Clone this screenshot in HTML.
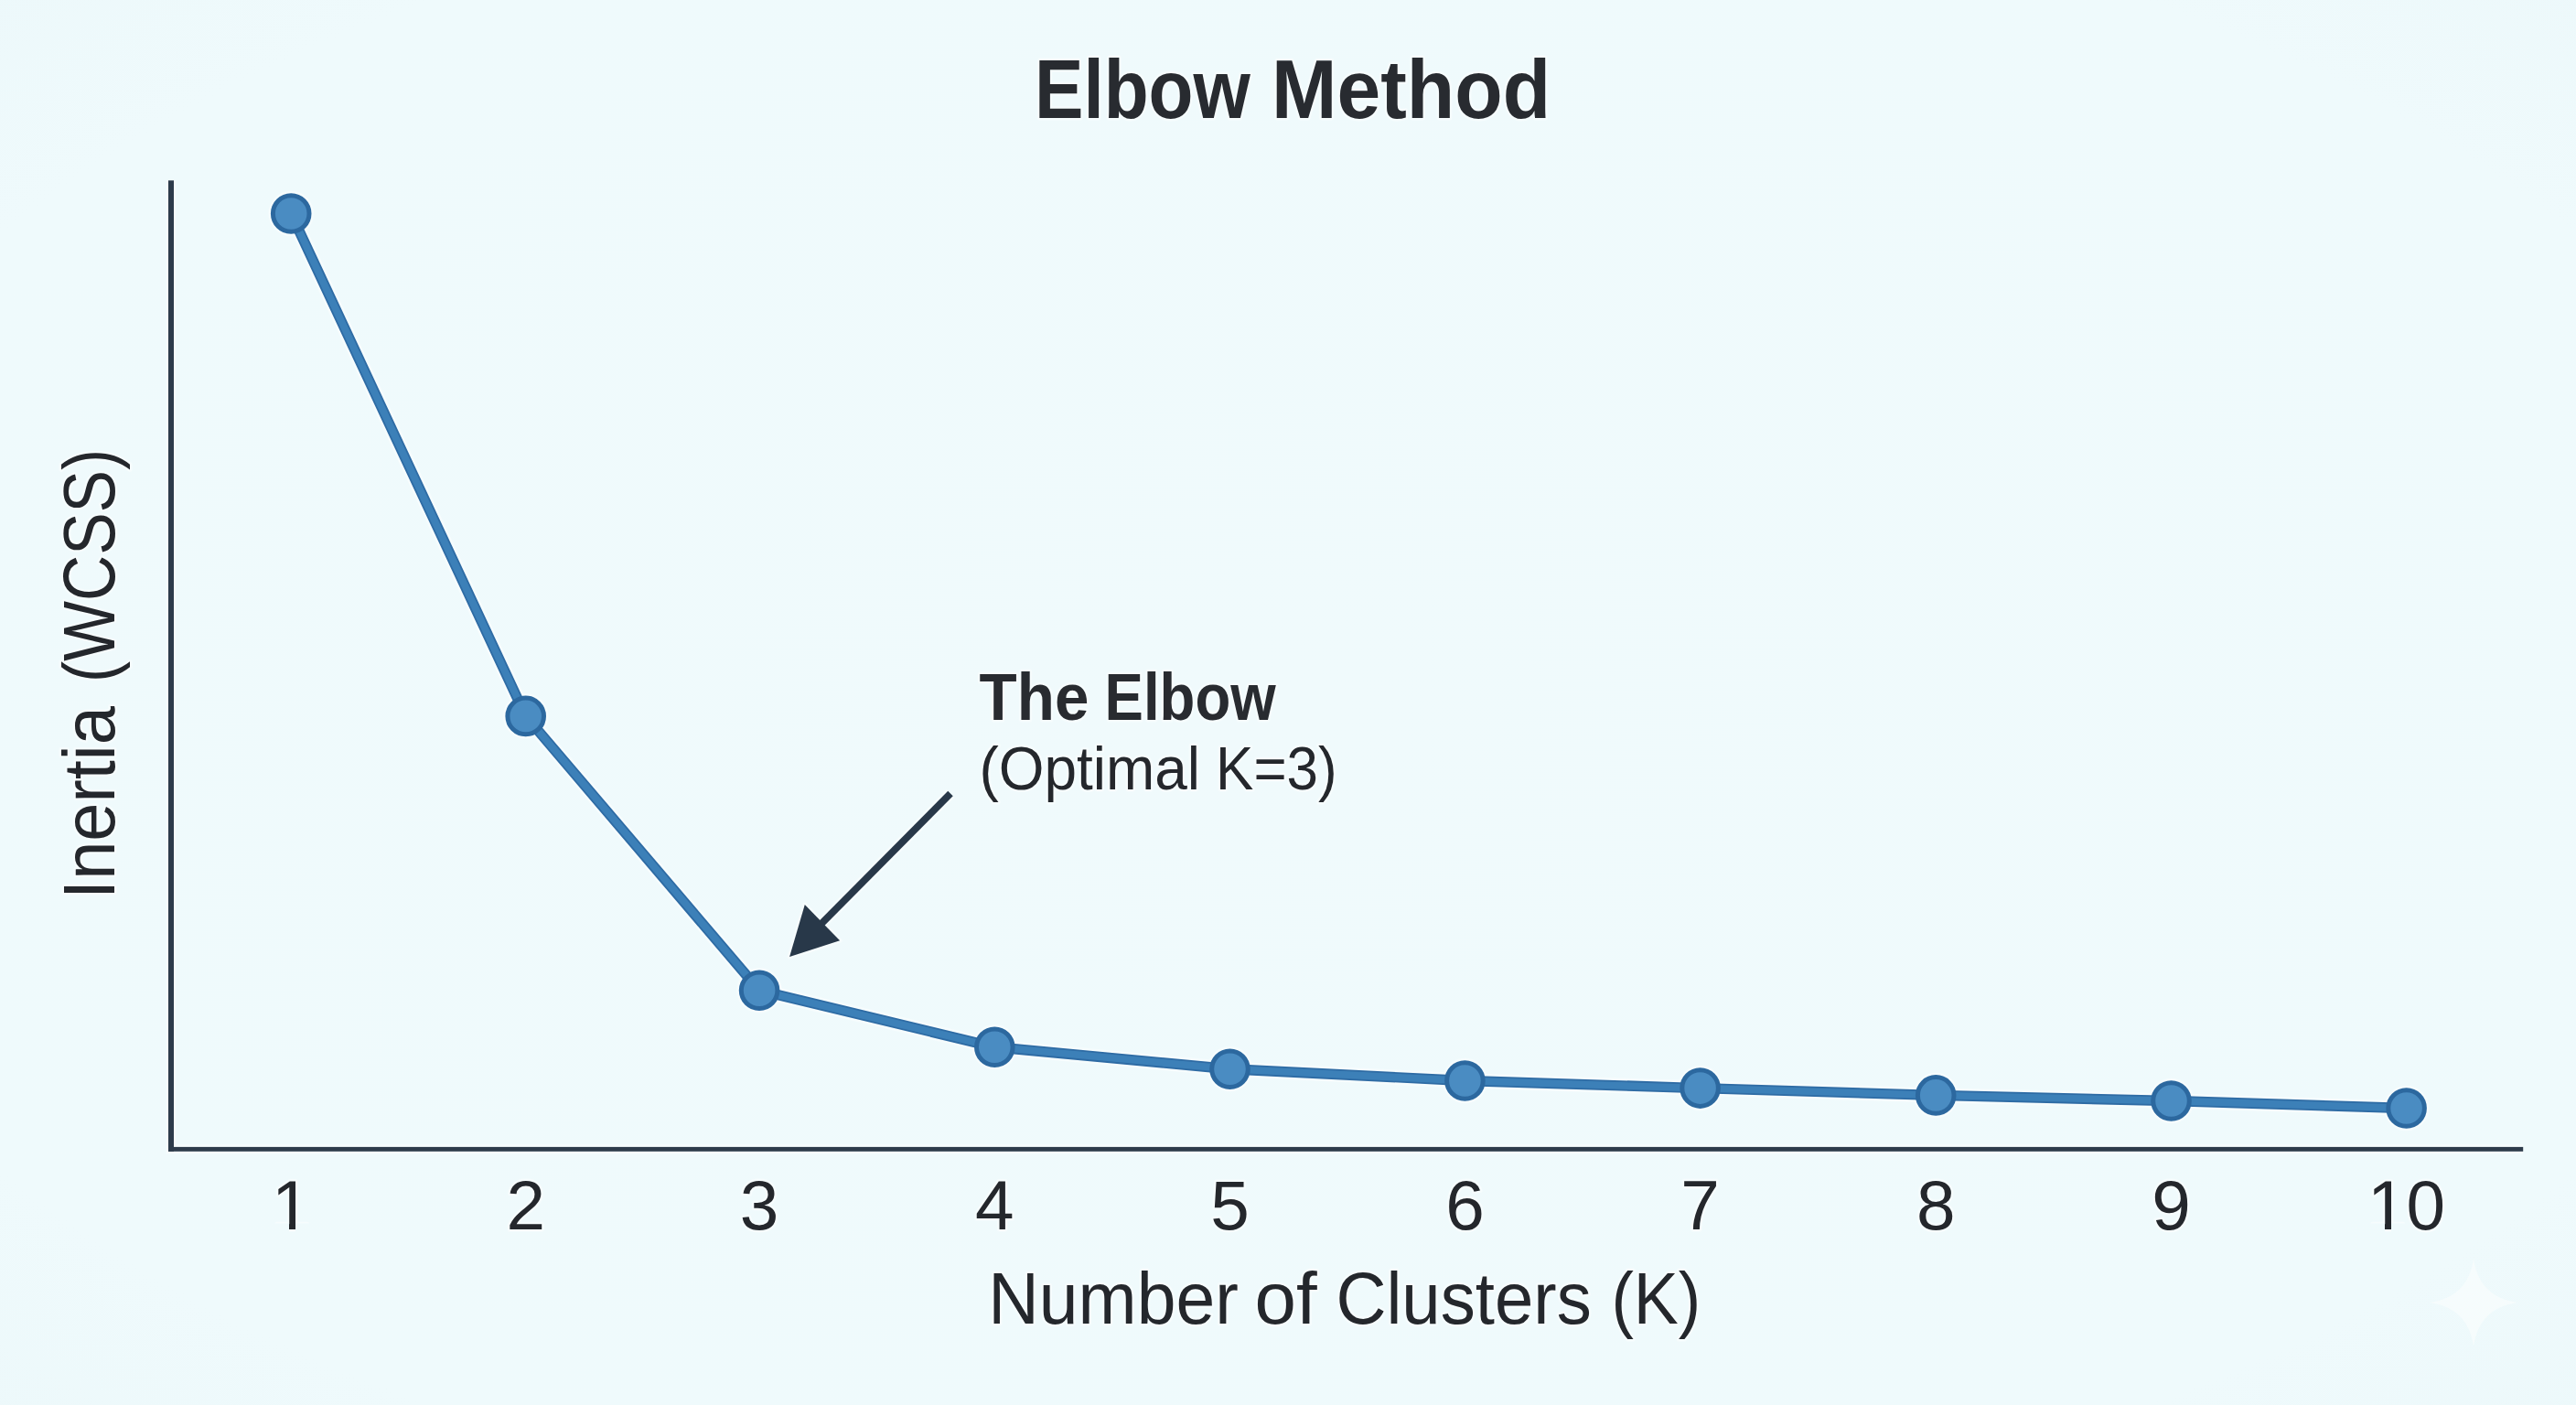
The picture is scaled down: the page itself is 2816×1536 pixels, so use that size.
<!DOCTYPE html>
<html lang="en">
<head>
<meta charset="utf-8">
<title>Elbow Method</title>
<style>
  html, body { margin: 0; padding: 0; width: 2816px; height: 1536px; overflow: hidden; background: #effafc; }
  svg { display: block; position: absolute; left: 0; top: 0; }
  text { font-family: "Liberation Sans", sans-serif; }
  .t  { fill: #24272c; stroke: #f6fcfd; stroke-width: 5px; paint-order: stroke fill; stroke-linejoin: round; }
  .tb { fill: #282b30; font-weight: bold; stroke: #f6fcfd; stroke-width: 5px; paint-order: stroke fill; stroke-linejoin: round; }
</style>
</head>
<body>
<svg width="2816" height="1536" viewBox="0 0 2816 1536">
  <defs>
    <clipPath id="c1"><path d="M250 1270 H400 V1337.5 H323 V1352 H316 V1337.5 H250 Z"/></clipPath>
    <clipPath id="c10"><path d="M2560 1270 H2720 V1352 H2630.5 V1337.5 H2614 V1352 H2607 V1337.5 H2560 Z"/></clipPath>
    <radialGradient id="bg" cx="50%" cy="50%" r="75%">
      <stop offset="0" stop-color="#f0fafc"/>
      <stop offset="0.8" stop-color="#effafc"/>
      <stop offset="1" stop-color="#ecf8fa"/>
    </radialGradient>
  </defs>
  <rect x="0" y="0" width="2816" height="1536" fill="url(#bg)"/>

  <!-- watermark sparkle -->
  <path id="sparkle" d="M2704 1376 C2708 1404 2724 1420 2752 1424 C2724 1428 2708 1444 2704 1472 C2700 1444 2684 1428 2656 1424 C2684 1420 2700 1404 2704 1376 Z" fill="#f7fcfd" opacity="0.8"/>

  <!-- title -->
  <g id="title" class="tb" font-size="90">
    <text transform="translate(1130.96,129.2) scale(0.8903,1)">Elbow</text>
    <text transform="translate(1390.08,129.2) scale(0.9536,1)">Method</text>
  </g>

  <!-- axes -->
  <g id="halo" fill="none" stroke="#f6fcfd" stroke-linejoin="round" stroke-linecap="round">
    <path d="M187 197.3 V1256.35 H2758.2" stroke-width="10.5" stroke-linecap="butt" stroke-linejoin="miter"/>
    <polyline stroke-width="16.5" points="318.2,233.5 574.7,782.9 830.1,1082.7 1087.3,1144.7 1344.5,1168.7 1601.4,1181.5 1858.6,1189.6 2116.2,1197.4 2373.5,1203.5 2630.6,1211.5"/>
    <path d="M1039 867.5 L896 1011.8" stroke-width="12.5" stroke-linecap="butt"/>
    <polygon points="863.1,1046 879.8,989 918.1,1028.3" fill="#f6fcfd" stroke-width="5"/>
  </g>
  <g id="markerhalo" fill="#f6fcfd">
    <circle cx="318.2" cy="233.5" r="24.8"/>
    <circle cx="574.7" cy="782.9" r="24.8"/>
    <circle cx="830.1" cy="1082.7" r="24.8"/>
    <circle cx="1087.3" cy="1144.7" r="24.8"/>
    <circle cx="1344.5" cy="1168.7" r="24.8"/>
    <circle cx="1601.4" cy="1181.5" r="24.8"/>
    <circle cx="1858.6" cy="1189.6" r="24.8"/>
    <circle cx="2116.2" cy="1197.4" r="24.8"/>
    <circle cx="2373.5" cy="1203.5" r="24.8"/>
    <circle cx="2630.6" cy="1211.5" r="24.8"/>
  </g>
  <g id="axes" fill="#2d3b4b">
    <rect x="184" y="197.3" width="6" height="1061.5"/>
    <rect x="184" y="1253.9" width="2574.2" height="4.9"/>
  </g>

  <!-- data line -->
  <g id="line" fill="none" stroke-linejoin="round" stroke-linecap="round">
    <polyline stroke="#2e6ba4" stroke-width="11.4" points="318.2,233.5 574.7,782.9 830.1,1082.7 1087.3,1144.7 1344.5,1168.7 1601.4,1181.5 1858.6,1189.6 2116.2,1197.4 2373.5,1203.5 2630.6,1211.5"/>
    <polyline stroke="#3c80b8" stroke-width="7.8" points="318.2,233.5 574.7,782.9 830.1,1082.7 1087.3,1144.7 1344.5,1168.7 1601.4,1181.5 1858.6,1189.6 2116.2,1197.4 2373.5,1203.5 2630.6,1211.5"/>
  </g>

  <!-- markers -->
  <g id="markers" fill="#4a8cc2" stroke="#2c689f" stroke-width="5">
    <circle cx="318.2" cy="233.5" r="19.8"/>
    <circle cx="574.7" cy="782.9" r="19.8"/>
    <circle cx="830.1" cy="1082.7" r="19.8"/>
    <circle cx="1087.3" cy="1144.7" r="19.8"/>
    <circle cx="1344.5" cy="1168.7" r="19.8"/>
    <circle cx="1601.4" cy="1181.5" r="19.8"/>
    <circle cx="1858.6" cy="1189.6" r="19.8"/>
    <circle cx="2116.2" cy="1197.4" r="19.8"/>
    <circle cx="2373.5" cy="1203.5" r="19.8"/>
    <circle cx="2630.6" cy="1211.5" r="19.8"/>
  </g>

  <!-- annotation arrow -->
  <g id="arrow" fill="#283849" stroke="none">
    <line x1="1039" y1="867.5" x2="896" y2="1011.8" stroke="#283849" stroke-width="7.7" stroke-linecap="butt"/>
    <polygon points="863.1,1046 879.8,989 918.1,1028.3"/>
  </g>

  <!-- annotation text -->
  <g id="ann1" class="tb" font-size="71.8">
    <text transform="translate(1070.56,786.9) scale(0.9387,1)">The</text>
    <text transform="translate(1207.58,786.9) scale(0.885,1)">Elbow</text>
  </g>
  <g id="ann2" class="t" font-size="66">
    <text transform="translate(1070.42,863) scale(0.9689,1)">(Optimal</text>
    <text transform="translate(1329.11,863) scale(0.9379,1)">K=3)</text>
  </g>

  <!-- tick labels -->
  <g id="ticks" class="t" font-size="76.5" text-anchor="middle">
    <text x="318.2" y="1344" clip-path="url(#c1)">1</text>
    <text x="574.7" y="1344">2</text>
    <text x="830.1" y="1344">3</text>
    <text x="1087.3" y="1344">4</text>
    <text x="1344.5" y="1344">5</text>
    <text x="1601.4" y="1344">6</text>
    <text x="1858.6" y="1344">7</text>
    <text x="2116.2" y="1344">8</text>
    <text x="2373.5" y="1344">9</text>
    <text x="2630.6" y="1344" clip-path="url(#c10)">10</text>
  </g>

  <!-- x label -->
  <g id="xlabel" class="t" font-size="79.5">
    <text transform="translate(1080.33,1446.5) scale(0.9672,1)">Number</text>
    <text transform="translate(1371.52,1446.5) scale(1.027,1)">of</text>
    <text transform="translate(1460.47,1446.5) scale(0.9579,1)">Clusters</text>
    <text transform="translate(1761.38,1446.5) scale(0.924,1)">(K)</text>
  </g>

  <!-- y label -->
  <g id="ylabel" class="t" font-size="79">
    <text transform="translate(124.7,982.9) rotate(-90) scale(0.9601,1)">Inertia</text>
    <text transform="translate(124.7,745.9) rotate(-90) scale(0.8807,1)">(WCSS)</text>
  </g>
</svg>
</body>
</html>
